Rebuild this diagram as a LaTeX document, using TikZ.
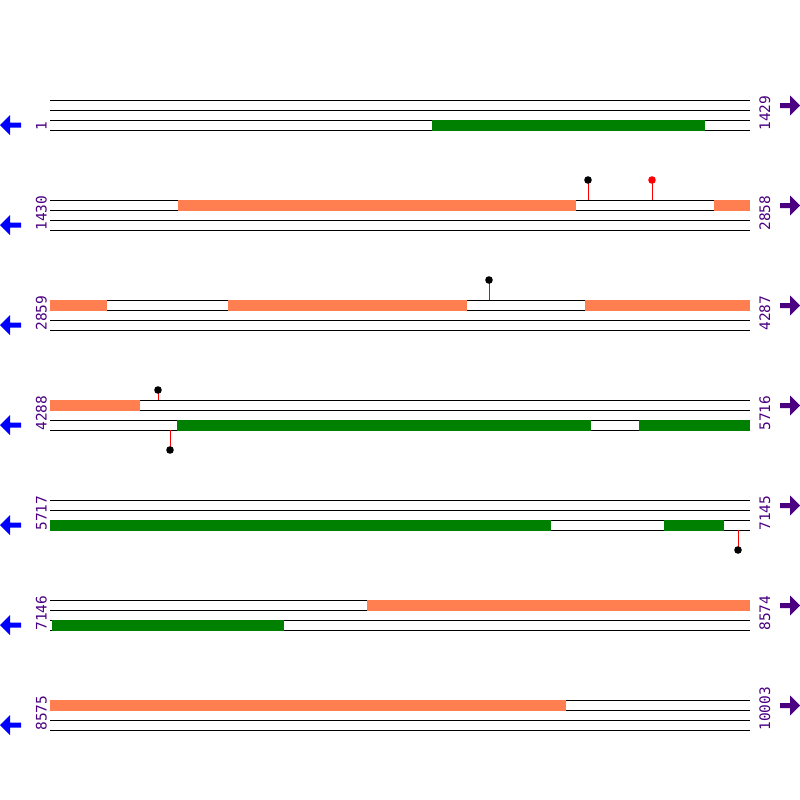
\documentclass[tikz,border=0pt]{standalone}
\usepackage{fontspec}
\newfontfamily\monofam{DejaVu Sans Mono}
\definecolor{verde}{HTML}{008000}
\definecolor{coral}{HTML}{FF7F50}
\definecolor{indigo}{HTML}{4B0082}
\definecolor{azul}{HTML}{0000FF}
\newcommand{\pin}[4]{\draw[stick] (#1,#2) -- (#1,#3); \fill[#4] (#1,#3) circle (3.8);}

\begin{document}
\begin{tikzpicture}[x=1pt, y=-1pt, line width=1pt,
    lbl/.style={rotate=90, anchor=base west, inner sep=0pt, text=indigo,
                font=\monofam\fontsize{14.5}{14.5}\selectfont},
    stick/.style={draw=red, line width=1pt}]
  \useasboundingbox (0,0) rectangle (800,800);
  \foreach \r/\a/\b [count=\i] in {100/1/1429, 200/1430/2858, 300/2859/4287,
      400/4288/5716, 500/5717/7145, 600/7146/8574, 700/8575/10003} {
    \foreach \k in {0,10,20,30} \draw (50,\r+\k) -- (750,\r+\k);
    \node[lbl] (ini\i) at (46.5,\r+31) {\a};
    \node[lbl] (fin\i) at (770,\r+31) {\b};
    \fill[azul] (0,\r+25) -- (10,\r+15) -- (10,\r+22.5) -- (21,\r+22.5)
      -- (21,\r+27.5) -- (10,\r+27.5) -- (10,\r+35) -- cycle;
    \fill[indigo] (800,\r+5.5) -- (790,\r-4.5) -- (790,\r+3) -- (780,\r+3)
      -- (780,\r+8) -- (790,\r+8) -- (790,\r+15.5) -- cycle;
  }
  \foreach \y/\x/\z/\c in {120/432/705/verde,
      200/178/576/coral, 200/714/750/coral,
      300/50/107/coral, 300/228/467/coral, 300/585/750/coral,
      400/50/140/coral, 420/177/591/verde, 420/639/750/verde,
      520/50/551/verde, 520/664/724/verde,
      600/367/750/coral, 620/52/284/verde,
      700/50/566/coral}
    \fill[\c] (\x,\y-0.5) rectangle (\z,\y+10.5);
  \pin{588}{200}{180}{black}
  \pin{652}{200}{180}{red}
  \pin{489}{300}{280}{black}
  \pin{158}{400}{390}{black}
  \pin{170}{430}{450}{black}
  \pin{738}{530}{550}{black}
\end{tikzpicture}
\end{document}
